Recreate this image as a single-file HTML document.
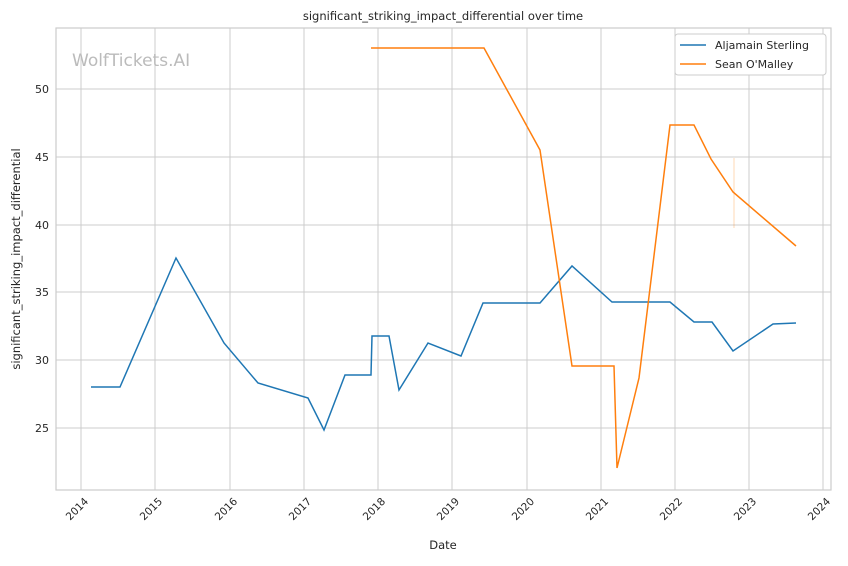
<!DOCTYPE html>
<html><head><meta charset="utf-8"><style>
body{margin:0;background:#fff;}
text{font-family:"DejaVu Sans","Liberation Sans",sans-serif;fill:#262626;}
</style></head><body>
<svg width="848" height="561" viewBox="0 0 848 561" xmlns="http://www.w3.org/2000/svg">
<rect width="848" height="561" fill="#fff"/>
<g stroke="#cccccc" stroke-width="1">
<line x1="81" y1="28" x2="81" y2="490"/><line x1="155" y1="28" x2="155" y2="490"/>
<line x1="230" y1="28" x2="230" y2="490"/><line x1="304" y1="28" x2="304" y2="490"/>
<line x1="378" y1="28" x2="378" y2="490"/><line x1="452" y1="28" x2="452" y2="490"/>
<line x1="527" y1="28" x2="527" y2="490"/><line x1="601" y1="28" x2="601" y2="490"/>
<line x1="675" y1="28" x2="675" y2="490"/><line x1="749" y1="28" x2="749" y2="490"/>
<line x1="823" y1="28" x2="823" y2="490"/>
<line x1="56" y1="89" x2="831" y2="89"/><line x1="56" y1="157" x2="831" y2="157"/>
<line x1="56" y1="225" x2="831" y2="225"/><line x1="56" y1="292" x2="831" y2="292"/>
<line x1="56" y1="360" x2="831" y2="360"/><line x1="56" y1="428" x2="831" y2="428"/>
</g>
<rect x="56" y="28" width="775" height="462" fill="none" stroke="#cccccc" stroke-width="1.2"/>
<text x="72" y="66" font-size="17" style="fill:#bbbbbb">WolfTickets.AI</text>
<polyline fill="none" stroke="#1f77b4" stroke-width="1.5" points="91,387 120,387 176,258 224,343 258,383 308,398 324,430 345,375 371,375 372,336 389,336 399,390 428,343 461,356 483,303 540,303 572,266 612,302 670,302 694,322 712,322 733,351 773,324 796,323"/>
<polyline fill="none" stroke="#ff7f0e" stroke-width="1.5" points="371,48 484,48 540,150 572,366 614,366 617,468 639,378 670,125 694,125 711,159 733,192 796,246"/>
<line x1="734" y1="158" x2="734" y2="228" stroke="#ff7f0e" stroke-opacity="0.3"/>
<g font-size="11" text-anchor="end">
<text x="49" y="93">50</text><text x="49" y="161">45</text><text x="49" y="229">40</text>
<text x="49" y="296">35</text><text x="49" y="364">30</text><text x="49" y="432">25</text>
</g>
<g font-size="10.5" text-anchor="end">
<text transform="translate(89,502) rotate(-45)">2014</text>
<text transform="translate(163,502) rotate(-45)">2015</text>
<text transform="translate(238,502) rotate(-45)">2016</text>
<text transform="translate(312,502) rotate(-45)">2017</text>
<text transform="translate(386,502) rotate(-45)">2018</text>
<text transform="translate(460,502) rotate(-45)">2019</text>
<text transform="translate(535,502) rotate(-45)">2020</text>
<text transform="translate(609,502) rotate(-45)">2021</text>
<text transform="translate(683,502) rotate(-45)">2022</text>
<text transform="translate(757,502) rotate(-45)">2023</text>
<text transform="translate(831,502) rotate(-45)">2024</text>
</g>
<text x="443" y="549" font-size="11.5" text-anchor="middle">Date</text>
<text transform="translate(20,259) rotate(-90)" font-size="11.5" text-anchor="middle">significant_striking_impact_differential</text>
<text x="443" y="20" font-size="11.5" text-anchor="middle">significant_striking_impact_differential over time</text>
<rect x="675" y="34" width="151" height="41" rx="3" fill="#fff" stroke="#cccccc"/>
<line x1="680" y1="45" x2="706" y2="45" stroke="#1f77b4" stroke-width="1.5"/>
<text x="715" y="49" font-size="11">Aljamain Sterling</text>
<line x1="680" y1="64" x2="706" y2="64" stroke="#ff7f0e" stroke-width="1.5"/>
<text x="715" y="68" font-size="11">Sean O'Malley</text>
</svg>
</body></html>
